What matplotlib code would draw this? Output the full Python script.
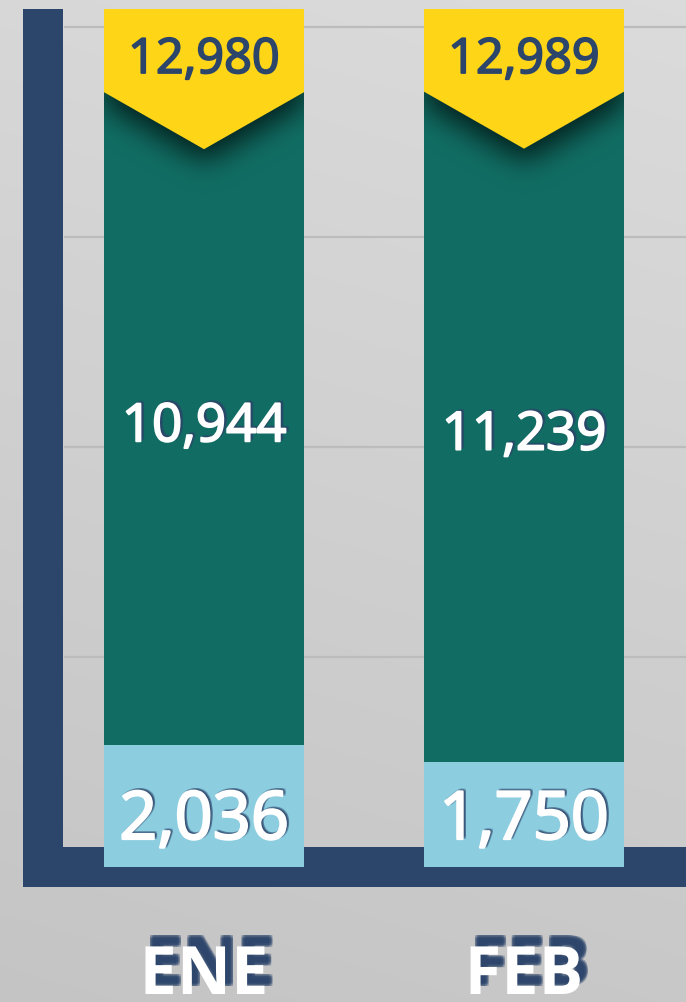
import numpy as np
import matplotlib
matplotlib.use("Agg")
import matplotlib.pyplot as plt
from matplotlib.patches import Rectangle, Polygon
import matplotlib.patheffects as pe

# ---- data ----
months = ["ENE", "FEB"]
lower_vals = [2036, 1750]
upper_vals = [10944, 11239]
total_vals = [12980, 12989]
grid_ticks = [0, 3500, 7000, 10500, 14000]

NAVY = "#2c456b"
TEAL = "#116d63"
LIGHT = "#8ccde0"
YELLOW = "#ffd517"
GRID = "#bcbcbc"
FONT = ["Open Sans", "DejaVu Sans"]

W, H = 686, 1003
fig = plt.figure(figsize=(W / 100, H / 100), dpi=100)
ax = fig.add_axes([0, 0, 1, 1])

S = 0.06        # pixels per unit
BASE = 868      # pixel row of value 0
X0, STEP = 204, 320
ax.set_xlim(-X0 / STEP, (W - X0) / STEP)
ax.set_ylim(-(H - BASE) / S, BASE / S)
ax.axis("off")


def dx(px):
    return (px - X0) / STEP


def dy(py):
    return (BASE - py) / S


xmin, xmax = ax.get_xlim()
ymin, ymax = ax.get_ylim()

# ---- background gradient ----
yy, xx = np.mgrid[0:1:200j, 0:1:200j]
g = 0.845 - 0.075 * yy + 0.015 * xx
bg = np.dstack([g, g, g])
ax.imshow(bg, extent=[xmin, xmax, ymin, ymax], aspect="auto", zorder=0,
          interpolation="bilinear")

# ---- grid lines ----
for t in grid_ticks:
    ax.plot([dx(64), xmax], [t, t], color=GRID, lw=1.6, zorder=1,
            solid_capstyle="butt")

# ---- navy L axis ----
ax.add_patch(Rectangle((dx(23), dy(888)), dx(63) - dx(23), dy(10) - dy(888),
                       facecolor=NAVY, edgecolor="none", zorder=1.5))
ax.add_patch(Rectangle((dx(23), dy(888)), xmax - dx(23), dy(848) - dy(888),
                       facecolor=NAVY, edgecolor="none", zorder=1.5))

# ---- bars ----
x = np.arange(len(months))
BW = 200 / STEP
ax.bar(x, lower_vals, width=BW, color=LIGHT, zorder=3)
upper_bars = ax.bar(x, upper_vals, bottom=lower_vals, width=BW, color=TEAL,
                    zorder=3)


def blur(a, sigma):
    r = int(3 * sigma)
    k = np.exp(-0.5 * (np.arange(-r, r + 1) / sigma) ** 2)
    k /= k.sum()
    a = np.apply_along_axis(lambda m: np.convolve(m, k, mode="same"), 0, a)
    a = np.apply_along_axis(lambda m: np.convolve(m, k, mode="same"), 1, a)
    return a


GAP = 4      # px between bar top and label box bottom
TIP = 57     # chevron depth, px


def thick(color, w):
    return [pe.Stroke(linewidth=w, foreground=color), pe.Normal()]


for i, (xi, tot) in enumerate(zip(x, total_vals)):
    left, right = xi - BW / 2, xi + BW / 2
    box_bottom = tot - GAP / S
    # shadow under chevron
    rows, cols = 180, 240
    rr, cc = np.mgrid[0:rows, 0:cols]
    off = 20
    r_rel = rr - off - 12
    c_rel = cc - 20 - 100
    mask = ((r_rel >= -40) &
            (np.abs(c_rel) <= 100 * (1 - np.clip(r_rel, 0, None) / TIP))).astype(float)
    sh = blur(mask, 14)
    alpha = np.clip(sh * 1.25, 0, 0.95)
    img = np.zeros((rows, cols, 4))
    img[..., 0] = 0x06 / 255
    img[..., 1] = 0x2e / 255
    img[..., 2] = 0x2a / 255
    img[..., 3] = alpha
    top_y = box_bottom + off / S
    im = ax.imshow(img, extent=[left - 20 / STEP, left + 220 / STEP,
                                top_y - rows / S, top_y],
                   aspect="auto", zorder=3.5, interpolation="bilinear")
    im.set_clip_path(upper_bars[i])

    # yellow label with chevron
    poly = Polygon([(left, dy(10)), (right, dy(10)), (right, box_bottom),
                    (xi, box_bottom - TIP / S), (left, box_bottom)], closed=True,
                   facecolor=YELLOW, edgecolor="none", zorder=4)
    ax.add_patch(poly)
    ax.text(xi, dy(74), f"{tot:,}", ha="center", va="baseline",
            fontsize=35, color=NAVY, family=FONT, zorder=5,
            path_effects=thick(NAVY, 1.3))


def soft_shadow(ox, oy, color, n_alpha=0.35, spread=0.8, stroke=0.0):
    effs = []
    for ddx in (-spread, 0, spread):
        for ddy in (-spread, 0, spread):
            effs.append(pe.SimplePatchShadow(offset=(ox + ddx, oy + ddy),
                                             shadow_rgbFace=color,
                                             alpha=n_alpha, rho=1))
    if stroke:
        effs.append(pe.Stroke(linewidth=stroke, foreground="white"))
    effs.append(pe.Normal())
    return effs


for xi, lo, up in zip(x, lower_vals, upper_vals):
    ax.text(xi, lo + up / 2 - 11 / S, f"{up:,}", ha="center", va="center",
            fontsize=38, color="white", family=FONT, zorder=5,
            path_effects=soft_shadow(1.8, 1.2, NAVY, 0.3, 0.8, stroke=1.4))
    ax.text(xi, dy(840), f"{lo:,}", ha="center", va="baseline",
            fontsize=48, color="white", family=FONT, zorder=5,
            path_effects=soft_shadow(1.5, 1.0, NAVY, 0.3, 0.9, stroke=1.6))

for xi, m in zip(x, months):
    ax.text(xi, dy(995), m, ha="center", va="baseline", fontsize=48,
            color="white", family=FONT, weight="bold", zorder=5,
            path_effects=soft_shadow(4.5, 7.0, NAVY, 0.35, 1.2))

fig.savefig("out.png", dpi=100)
